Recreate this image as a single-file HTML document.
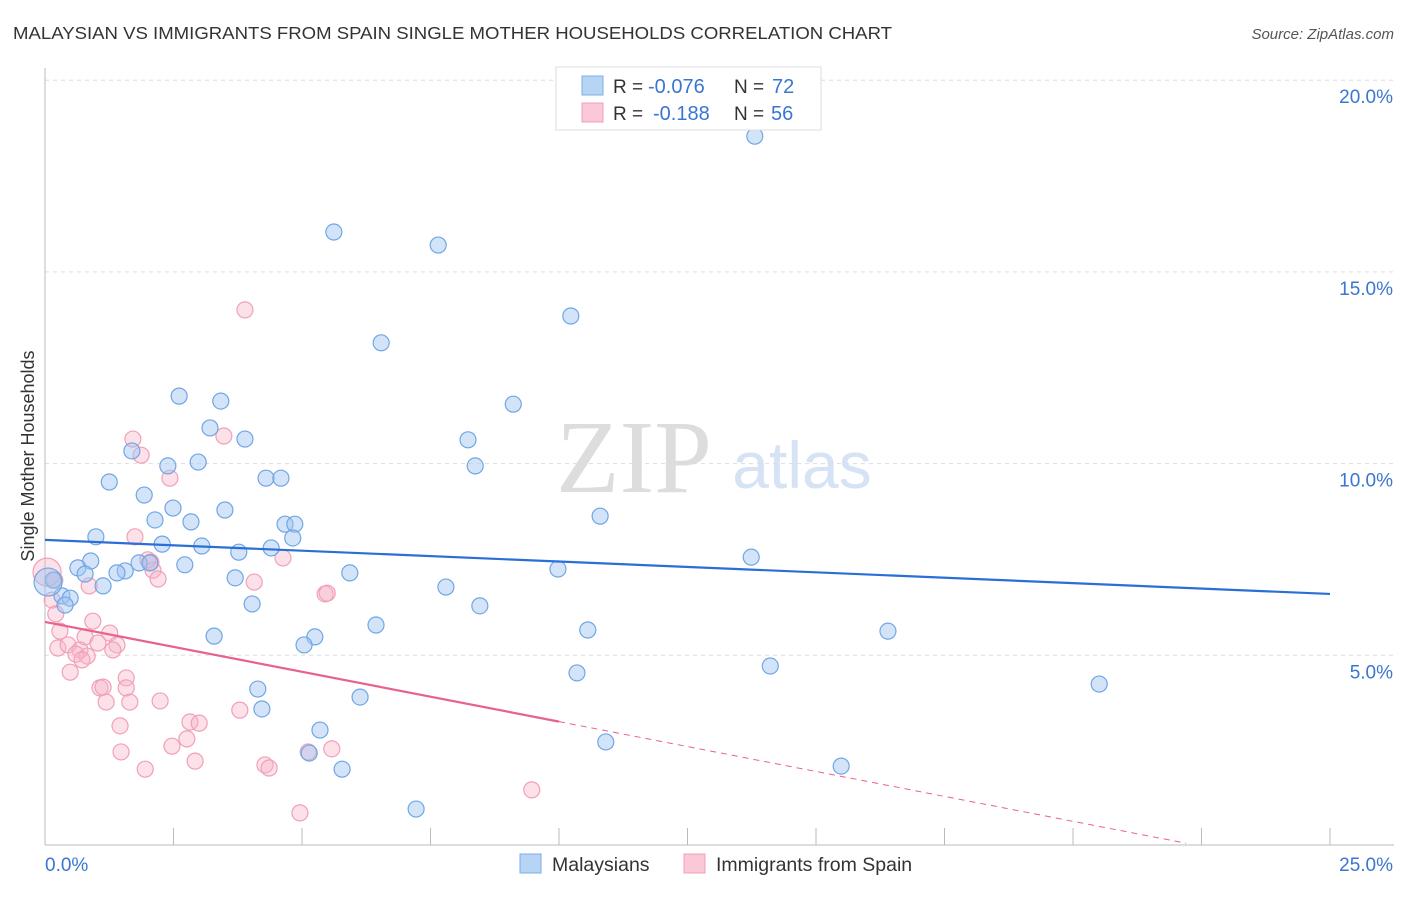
<!DOCTYPE html>
<html><head><meta charset="utf-8"><style>
body{margin:0;background:#fff;font-family:"Liberation Sans",sans-serif}
svg text{font-family:"Liberation Sans",sans-serif}
</style></head><body>
<svg id="chart" width="1406" height="892" xmlns="http://www.w3.org/2000/svg">
<text x="13" y="39" font-size="17.5" fill="#333" textLength="879" lengthAdjust="spacingAndGlyphs">MALAYSIAN VS IMMIGRANTS FROM SPAIN SINGLE MOTHER HOUSEHOLDS CORRELATION CHART</text>
<text x="1394" y="39" font-size="15" fill="#555" font-style="italic" text-anchor="end">Source: ZipAtlas.com</text>
<g>
<text x="634" y="492" font-size="104" fill="#ddd" text-anchor="middle" font-family="Liberation Serif" style="font-family:'Liberation Serif',serif">ZIP</text>
<text x="802" y="488" font-size="66" fill="#d5e3f5" text-anchor="middle">atlas</text>
</g>
<g id="grid"></g>
<g id="axes"></g>
<g id="marks"></g>
<text transform="translate(34,456) rotate(-90)" font-size="18" fill="#333" text-anchor="middle">Single Mother Households</text>
<g>
<rect x="556" y="67" width="265" height="63" fill="#fff" stroke="#ddd"/>
<rect x="582" y="76" width="21" height="19" fill="#b8d4f5" stroke="#7aaee8"/>
<rect x="582" y="103" width="21" height="19" fill="#fac8d6" stroke="#f0a0b8"/>
<text x="613" y="93" font-size="19" fill="#333">R =</text>
<text x="648" y="93" font-size="20" fill="#3a76d0">-0.076</text>
<text x="734" y="93" font-size="19" fill="#333">N =</text>
<text x="772" y="93" font-size="20" fill="#3a76d0">72</text>
<text x="613" y="120" font-size="19" fill="#333">R =</text>
<text x="653" y="120" font-size="20" fill="#3a76d0">-0.188</text>
<text x="734" y="120" font-size="19" fill="#333">N =</text>
<text x="771" y="120" font-size="20" fill="#3a76d0">56</text>
</g>
<g>
<rect x="520" y="854" width="21" height="19" fill="#b8d4f5" stroke="#7aaee8"/>
<text x="552" y="871" font-size="19.5" fill="#333">Malaysians</text>
<rect x="684" y="854" width="21" height="19" fill="#fac8d6" stroke="#f0a0b8"/>
<text x="716" y="871" font-size="19.5" fill="#333">Immigrants from Spain</text>
</g>
</svg>
<script>
const xTicks=[0,2.5,5,7.5,10,12.5,15,17.5,20,22.5,25];
const yTicks=[5,10,15,20];
const yTickLabels=["5.0%","10.0%","15.0%","20.0%"];
const xTickLabels=["0.0%","25.0%"];
const blueX=[13.81,5.62,7.65,10.23,6.54,2.61,3.42,9.11,3.21,3.89,8.23,1.69,2.39,2.98,8.37,4.30,4.59,1.25,1.93,3.50,2.49,2.14,2.84,10.80,4.67,4.86,0.99,4.82,2.28,3.05,3.77,4.40,13.74,0.89,1.83,2.04,2.72,0.64,1.56,9.98,1.40,5.93,3.70,0.78,0.16,1.13,7.80,0.33,0.49,4.03,0.39,8.46,6.44,10.56,16.40,3.29,5.25,5.04,14.11,10.35,20.51,4.14,6.13,4.22,5.35,10.91,5.14,5.78,15.49,7.22];
const blueY=[18.54,16.04,15.70,13.85,13.15,11.76,11.63,11.55,10.93,10.64,10.62,10.33,9.94,10.04,9.94,9.62,9.62,9.52,9.18,8.79,8.84,8.53,8.48,8.63,8.42,8.42,8.09,8.06,7.90,7.85,7.69,7.80,7.56,7.46,7.41,7.41,7.36,7.28,7.20,7.25,7.15,7.15,7.02,7.12,6.96,6.81,6.78,6.55,6.49,6.34,6.31,6.29,5.79,5.66,5.63,5.50,5.48,5.27,4.72,4.54,4.25,4.12,3.91,3.60,3.05,2.74,2.45,2.03,2.11,0.99];
const pinkX=[3.89,1.71,1.87,3.48,2.43,1.75,2.06,2.00,2.10,2.20,4.63,4.07,5.45,5.49,0.86,0.19,0.14,0.21,0.93,0.29,1.26,0.78,0.25,0.45,0.68,1.03,1.40,1.32,0.82,0.60,0.72,0.49,1.58,1.07,1.58,1.13,2.24,1.19,1.65,3.79,2.82,3.00,2.76,1.46,2.47,1.48,5.58,2.92,1.95,4.28,4.36,5.12,9.47,4.96];
const pinkY=[14.01,10.64,10.22,10.72,9.62,8.09,7.43,7.49,7.22,6.99,7.54,6.91,6.60,6.62,6.81,6.96,6.44,6.08,5.89,5.63,5.58,5.48,5.19,5.27,5.14,5.32,5.27,5.14,4.98,5.03,4.88,4.56,4.41,4.15,4.15,4.17,3.81,3.78,3.78,3.57,3.26,3.23,2.82,3.16,2.63,2.48,2.56,2.24,2.03,2.14,2.06,2.48,1.49,0.89];
const bigBlue=[0.06,6.91];
const bigPink=[0.04,7.17];
const blueTrend=[8.01,6.60];
const pinkTrend=[5.87,-0.26];
const pinkSolidEnd=10;
const pinkDashEnd=22.2;

const X0=45,X1=1330,Y0=847,PXY=38.34;
const sx=v=>X0+(X1-X0)*v/25;
const sy=v=>Y0-v*PXY;
const NS="http://www.w3.org/2000/svg";
function mk(tag,attrs,parent){const e=document.createElementNS(NS,tag);for(const k in attrs)e.setAttribute(k,attrs[k]);parent.appendChild(e);return e;}
const grid=document.getElementById('grid'),axes=document.getElementById('axes'),marks=document.getElementById('marks');
yTicks.forEach((t,i)=>{
 const l=mk('line',{x1:X0,x2:1394,y1:sy(t),y2:sy(t),stroke:'#ddd','stroke-dasharray':'4,4'},grid);
 
 
 const tx=mk('text',{x:1393,y:sy(t)+23,'font-size':19,fill:'#3a76d0','text-anchor':'end'},axes);
 tx.textContent=yTickLabels[i];
 
 
});
const ya=mk('line',{x1:X0,x2:X0,y1:68,y2:845,stroke:'#bbb'},axes);


const xa=mk('line',{x1:X0,x2:1394,y1:845,y2:845,stroke:'#bbb'},axes);


xTicks.forEach(t=>{
 const l=mk('line',{x1:sx(t),x2:sx(t),y1:828,y2:845,stroke:'#bbb'},axes);
 
 
});
const xl0=mk('text',{x:45,y:871,'font-size':19,fill:'#3a76d0'},axes);xl0.textContent=xTickLabels[0];


const xl1=mk('text',{x:1393,y:871,'font-size':19,fill:'#3a76d0','text-anchor':'end'},axes);xl1.textContent=xTickLabels[1];



function dot(x,y,r,kind){
 const c=mk('circle',{cx:sx(x),cy:sy(y),r:r,fill:kind==='b'?'rgba(160,196,240,0.45)':'rgba(248,180,200,0.4)',stroke:kind==='b'?'#6fa6e6':'#f0a0b8','stroke-width':1.2},marks);
 
 
}
pinkX.forEach((x,i)=>dot(x,pinkY[i],8,'p'));
dot(bigPink[0],bigPink[1],14,'p');
blueX.forEach((x,i)=>dot(x,blueY[i],8,'b'));
dot(bigBlue[0],bigBlue[1],14,'b');
const bt=mk('line',{x1:sx(0),y1:sy(blueTrend[0]),x2:sx(25),y2:sy(blueTrend[1]),stroke:'#2a6fd6','stroke-width':2.2},marks);


const py=x=>pinkTrend[0]+pinkTrend[1]*x;
const pt=mk('line',{x1:sx(0),y1:sy(py(0)),x2:sx(pinkSolidEnd),y2:sy(py(pinkSolidEnd)),stroke:'#e8628e','stroke-width':2.2},marks);


const pd=mk('line',{x1:sx(pinkSolidEnd),y1:sy(py(pinkSolidEnd)),x2:sx(pinkDashEnd),y2:sy(py(pinkDashEnd)),stroke:'#e8628e','stroke-width':1,'stroke-dasharray':'6,5'},marks);


</script>
</body></html>
